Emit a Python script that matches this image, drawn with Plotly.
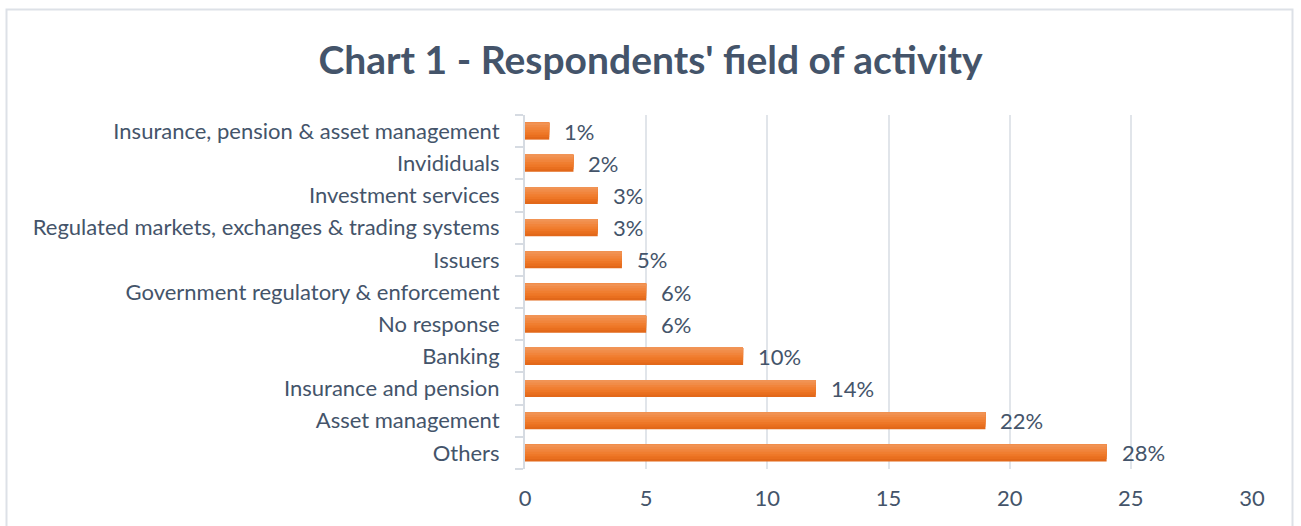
import plotly.graph_objects as go

categories = ["Others", "Asset management", "Insurance and pension", "Banking",
              "No response", "Government regulatory & enforcement", "Issuers",
              "Regulated markets, exchanges & trading systems", "Investment services",
              "Invididuals", "Insurance, pension & asset management"]
values = [24, 19, 12, 9, 5, 5, 4, 3, 3, 2, 1]
labels = ["28%", "22%", "14%", "10%", "6%", "6%", "5%", "3%", "3%", "2%", "1%"]
x_ticks = [0, 5, 10, 15, 20, 25, 30]

TXT = "#44546a"
FONT = "Lato"
FS = 22

# vertical gradient simulated by overlaid strips (bottom -> top)
strip_colors = ["#e2681a", "#e96f1f", "#ee7727", "#f07e30", "#f1853c", "#f18c48", "#f19354"]
bar_w = 0.53
n = len(strip_colors)
sw = bar_w / n

fig = go.Figure()
for i, c in enumerate(strip_colors):
    off = -bar_w / 2 + i * sw
    fig.add_trace(go.Bar(
        y=categories, x=values, orientation="h",
        width=bar_w / 2 - off, offset=off,
        marker=dict(color=c, line=dict(width=0)),
        hoverinfo="skip", showlegend=False,
    ))

for cat, v, lab in zip(categories, values, labels):
    fig.add_annotation(x=v, y=cat, text=lab, xanchor="left", yanchor="middle",
                       xshift=13, showarrow=False,
                       font=dict(family=FONT, size=FS, color=TXT))

fig.update_layout(
    width=1301, height=526,
    barmode="overlay",
    paper_bgcolor="white", plot_bgcolor="white",
    margin=dict(l=525, r=49, t=115, b=57),
    title=dict(text="<b>Chart 1 - Respondents' field of activity</b>",
               x=0.5, xanchor="center", y=0.886, yanchor="middle",
               font=dict(family=FONT, size=39, color=TXT)),
    font=dict(family=FONT, color=TXT),
    xaxis=dict(range=[0, 30], tickvals=x_ticks, showgrid=True, gridcolor="#e1e5ea",
               gridwidth=2, zeroline=False, showline=False,
               tickfont=dict(family=FONT, size=FS, color=TXT), ticks="",
               ticklabelstandoff=14),
    yaxis=dict(categoryorder="array", categoryarray=categories,
               range=[-0.5, 10.5], showline=True, linecolor="#d6dbe2", linewidth=2,
               ticks="outside", tickson="boundaries", ticklen=8, tickcolor="#d6dbe2",
               tickwidth=2, tickfont=dict(family=FONT, size=FS, color=TXT),
               ticklabelstandoff=19, showgrid=False),
    shapes=[dict(type="rect", xref="paper", yref="paper",
                 x0=(6.5 - 525) / 727, x1=(1292.5 - 525) / 727,
                 y0=-0.3, y1=(469 - 9.5) / 354,
                 line=dict(color="#dde1e7", width=2), fillcolor="rgba(0,0,0,0)",
                 layer="below")],
)

fig.write_html("out.html", config={"displayModeBar": False},
               post_script="document.body.style.margin='0';")
